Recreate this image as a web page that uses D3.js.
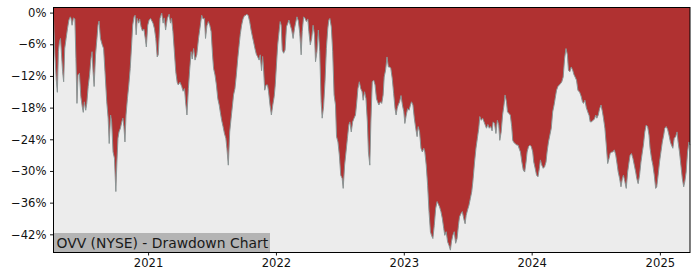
<!DOCTYPE html>
<html>
<head>
<meta charset="utf-8">
<script src="https://cdn.jsdelivr.net/npm/d3@7"></script>
<style>
  body { margin: 0; background: #fff; }
  svg { display: block; font-family: "DejaVu Sans", sans-serif; }
</style>
</head>
<body>
<div id="chart"></div>
<script>
// Drawdown from running peak, in percent
const dates = [
  "2020-04-06","2020-04-10","2020-04-14","2020-04-17","2020-04-20","2020-04-23","2020-04-26","2020-04-29",
  "2020-05-02","2020-05-05","2020-05-08","2020-05-12","2020-05-16","2020-05-20","2020-05-24","2020-05-26",
  "2020-05-29","2020-06-02","2020-06-06","2020-06-09","2020-06-12","2020-06-15","2020-06-19","2020-06-23",
  "2020-06-27","2020-06-30","2020-07-03","2020-07-07","2020-07-10","2020-07-14","2020-07-18","2020-07-22",
  "2020-07-25","2020-07-28","2020-07-31","2020-08-04","2020-08-08","2020-08-11","2020-08-14","2020-08-18",
  "2020-08-23","2020-08-27","2020-08-31","2020-09-05","2020-09-09","2020-09-12","2020-09-16","2020-09-19",
  "2020-09-23","2020-09-27","2020-10-01","2020-10-04","2020-10-07","2020-10-10","2020-10-14","2020-10-18",
  "2020-10-21","2020-10-24","2020-10-27","2020-10-30","2020-11-03","2020-11-07","2020-11-11","2020-11-15",
  "2020-11-18","2020-11-22","2020-11-25","2020-11-28","2020-12-01","2020-12-05","2020-12-08","2020-12-12",
  "2020-12-16","2020-12-20","2020-12-24","2020-12-27","2020-12-31","2021-01-04","2021-01-08","2021-01-12",
  "2021-01-15","2021-01-19","2021-01-23","2021-01-27",
  "2021-01-30","2021-02-04","2021-02-09","2021-02-13","2021-02-16","2021-02-20","2021-02-25","2021-03-02",
  "2021-03-06","2021-03-09","2021-03-13","2021-03-17","2021-03-21","2021-03-25","2021-03-28","2021-04-02",
  "2021-04-07","2021-04-11","2021-04-15","2021-04-18","2021-04-22","2021-04-26","2021-04-30","2021-05-04",
  "2021-05-07","2021-05-11","2021-05-15","2021-05-20","2021-05-25","2021-05-29","2021-06-03","2021-06-07",
  "2021-06-11","2021-06-14","2021-06-18","2021-06-22","2021-06-26","2021-06-30","2021-07-04","2021-07-07",
  "2021-07-11","2021-07-15","2021-07-19","2021-07-23","2021-07-26","2021-07-30","2021-08-03","2021-08-07",
  "2021-08-11","2021-08-14","2021-08-18","2021-08-22","2021-08-26","2021-08-30","2021-09-02","2021-09-06",
  "2021-09-10","2021-09-14","2021-09-18","2021-09-21","2021-09-25","2021-09-29","2021-10-03","2021-10-07",
  "2021-10-10","2021-10-14","2021-10-18","2021-10-22","2021-10-26","2021-10-29","2021-11-02","2021-11-06",
  "2021-11-10","2021-11-14","2021-11-17","2021-11-21","2021-11-24",
  "2021-11-26","2021-11-30","2021-12-04","2021-12-08","2021-12-11","2021-12-15","2021-12-19","2021-12-23",
  "2021-12-27","2021-12-30","2022-01-03","2022-01-06","2022-01-09","2022-01-13","2022-01-16","2022-01-19",
  "2022-01-23","2022-01-27","2022-01-31","2022-02-04","2022-02-07","2022-02-11","2022-02-15","2022-02-19",
  "2022-02-23","2022-02-26","2022-03-02","2022-03-06","2022-03-10","2022-03-14","2022-03-17","2022-03-21",
  "2022-03-25","2022-03-29","2022-04-02","2022-04-05","2022-04-09","2022-04-13","2022-04-17","2022-04-21",
  "2022-04-24","2022-04-28","2022-05-02","2022-05-06","2022-05-10","2022-05-13","2022-05-17","2022-05-21",
  "2022-05-25","2022-05-29","2022-06-01","2022-06-04","2022-06-08","2022-06-12","2022-06-16","2022-06-20",
  "2022-06-23","2022-06-27","2022-07-01","2022-07-05","2022-07-09","2022-07-12","2022-07-16","2022-07-20",
  "2022-07-24","2022-07-28","2022-07-31","2022-08-04","2022-08-08","2022-08-12","2022-08-16","2022-08-19",
  "2022-08-23","2022-08-27","2022-08-31","2022-09-04","2022-09-07","2022-09-11","2022-09-15","2022-09-19",
  "2022-09-22","2022-09-26","2022-09-29","2022-10-03","2022-10-07","2022-10-11","2022-10-15","2022-10-18",
  "2022-10-22","2022-10-26","2022-10-30","2022-11-03","2022-11-06","2022-11-10","2022-11-14","2022-11-18",
  "2022-11-22","2022-11-25","2022-11-29","2022-12-03","2022-12-07","2022-12-10","2022-12-13","2022-12-16",
  "2022-12-20","2022-12-24","2022-12-28","2023-01-01","2023-01-04","2023-01-08","2023-01-12","2023-01-16",
  "2023-01-20","2023-01-23","2023-01-27","2023-01-31","2023-02-04","2023-02-08","2023-02-11","2023-02-15",
  "2023-02-19","2023-02-23","2023-02-27","2023-03-02","2023-03-06","2023-03-10","2023-03-14","2023-03-18",
  "2023-03-21","2023-03-25","2023-03-29","2023-04-02","2023-04-06","2023-04-09","2023-04-13","2023-04-17",
  "2023-04-21","2023-04-25","2023-04-28","2023-05-02","2023-05-06","2023-05-10","2023-05-14","2023-05-17",
  "2023-05-21","2023-05-25","2023-05-29","2023-06-02","2023-06-06","2023-06-09","2023-06-13","2023-06-17",
  "2023-06-21","2023-06-25","2023-06-28","2023-07-02","2023-07-06","2023-07-10","2023-07-14","2023-07-17",
  "2023-07-18","2023-07-22","2023-07-26","2023-07-30","2023-08-03","2023-08-06","2023-08-10","2023-08-14",
  "2023-08-18","2023-08-22","2023-08-25","2023-08-29","2023-09-02","2023-09-06","2023-09-10","2023-09-13",
  "2023-09-17","2023-09-21","2023-09-25","2023-09-29","2023-10-02","2023-10-06","2023-10-10","2023-10-14",
  "2023-10-17","2023-10-21","2023-10-24","2023-10-28","2023-11-01","2023-11-05","2023-11-08","2023-11-11",
  "2023-11-15","2023-11-19","2023-11-23","2023-11-27","2023-11-30","2023-12-04","2023-12-08","2023-12-12",
  "2023-12-16","2023-12-19","2023-12-23","2023-12-27","2023-12-31","2024-01-04","2024-01-07","2024-01-11",
  "2024-01-15","2024-01-19","2024-01-23","2024-01-26","2024-01-30","2024-02-03","2024-02-07","2024-02-11",
  "2024-02-14","2024-02-18","2024-02-22","2024-02-26","2024-03-01","2024-03-05","2024-03-08","2024-03-12",
  "2024-03-16","2024-03-20","2024-03-24","2024-03-27","2024-03-31","2024-04-04","2024-04-08","2024-04-12",
  "2024-04-15","2024-04-19","2024-04-23","2024-04-27","2024-05-01","2024-05-04","2024-05-08","2024-05-12",
  "2024-05-17","2024-05-21","2024-05-25","2024-05-28","2024-06-01","2024-06-05","2024-06-09","2024-06-13",
  "2024-06-16","2024-06-20","2024-06-24","2024-06-28","2024-07-02","2024-07-05","2024-07-09","2024-07-13",
  "2024-07-17","2024-07-21","2024-07-24","2024-07-28","2024-08-01","2024-08-05","2024-08-09","2024-08-12",
  "2024-08-16","2024-08-20","2024-08-24","2024-08-28","2024-08-31","2024-09-04","2024-09-08","2024-09-12",
  "2024-09-16","2024-09-19","2024-09-23","2024-09-27","2024-10-01","2024-10-05","2024-10-08","2024-10-12",
  "2024-10-16","2024-10-20","2024-10-24","2024-10-27","2024-10-31","2024-11-04","2024-11-08","2024-11-12",
  "2024-11-15","2024-11-19","2024-11-23","2024-11-27","2024-12-01","2024-12-04","2024-12-08","2024-12-12",
  "2024-12-16","2024-12-20","2024-12-23","2024-12-27","2024-12-31","2025-01-04","2025-01-08","2025-01-12",
  "2025-01-15","2025-01-19","2025-01-23","2025-01-27","2025-01-31","2025-02-03","2025-02-07","2025-02-11",
  "2025-02-15","2025-02-19","2025-02-22","2025-02-26","2025-03-02","2025-03-06","2025-03-10","2025-03-13",
  "2025-03-17","2025-03-21","2025-03-25","2025-03-28"
];

const drawdown = [
  -1.1,-8.0,-12.8,-15.1,-7.4,-5.5,-4.9,-8.0,
  -11.2,-13.1,-6.8,-4.9,-3.0,-1.4,-0.8,-1.1,
  -2.4,-1.0,-1.2,-8.7,-17.2,-11.8,-11.5,-15.9,
  -17.8,-18.9,-16.9,-18.5,-17.2,-14.0,-11.8,-8.7,
  -7.4,-11.2,-14.0,-8.0,-4.9,-2.4,-1.6,-4.9,
  -6.1,-6.8,-11.2,-16.9,-20.0,-24.8,-19.4,-20.7,
  -26.4,-27.6,-33.9,-28.3,-23.8,-22.6,-21.9,-20.7,
  -20.0,-21.6,-24.5,-19.4,-16.3,-13.7,-10.6,-6.1,
  -2.4,-0.8,-0.5,-4.2,-1.1,-2.0,-1.2,-2.7,
  -3.5,-3.1,-4.9,-6.5,-2.4,-1.4,-1.1,-1.6,
  -2.0,-3.0,-4.9,-8.4,
  -8.0,-1.1,-0.1,-2.0,-1.0,-3.3,-1.1,-0.3,
  -2.0,-1.1,-3.6,-7.4,-11.2,-13.2,-13.7,-13.2,
  -14.0,-14.9,-14.4,-16.9,-19.4,-14.4,-10.6,-7.4,
  -8.8,-6.8,-9.0,-8.0,-4.9,-3.0,-0.5,-1.2,
  -1.1,-4.9,-2.5,-1.7,-2.4,-3.6,-8.0,-10.6,
  -11.8,-13.7,-16.3,-17.5,-18.8,-20.4,-21.6,-22.9,
  -23.8,-25.7,-28.9,-22.6,-20.0,-17.5,-15.6,-14.4,
  -11.8,-8.7,-6.1,-4.2,-2.4,-1.2,-0.6,-0.5,
  -0.3,-0.6,-1.7,-3.3,-4.6,-5.5,-6.8,-7.9,
  -8.4,-9.0,-8.0,-11.0,-8.3,
  -9.9,-14.7,-13.7,-13.7,-15.0,-17.5,-19.4,-17.5,
  -15.9,-13.7,-9.3,-6.1,-4.2,-1.7,-2.4,-7.1,
  -7.7,-7.1,-2.7,-2.0,-1.4,-2.4,-3.3,-4.9,
  -3.0,-2.0,-0.8,-1.6,-3.9,-8.0,-3.6,-0.8,
  -1.1,-1.7,-1.2,-3.6,-6.1,-4.9,-2.4,-4.2,
  -9.3,-7.4,-3.3,-7.4,-16.9,-20.0,-17.8,-13.1,
  -6.8,-3.0,-1.4,-1.1,-2.7,-7.4,-15.6,-17.5,
  -23.5,-24.5,-27.0,-30.8,-31.4,-33.3,-28.9,-26.4,
  -23.8,-21.3,-20.7,-22.6,-20.7,-20.0,-19.4,-17.5,
  -14.4,-13.1,-14.4,-15.0,-16.6,-15.0,-16.3,-20.7,
  -26.4,-28.9,-20.7,-13.1,-12.8,-13.7,-16.3,-16.9,
  -17.5,-16.9,-17.2,-15.6,-12.2,-10.9,-8.4,-10.3,
  -10.3,-10.6,-12.5,-15.3,-18.2,-19.4,-18.2,-17.5,
  -16.9,-15.7,-17.5,-18.8,-21.0,-19.4,-18.2,-18.5,
  -17.5,-16.9,-17.5,-20.0,-21.9,-23.5,-21.6,-22.6,
  -25.7,-26.4,-25.7,-26.4,-28.9,-32.7,-37.7,-41.5,
  -42.2,-42.8,-40.3,-37.1,-35.8,-36.2,-36.8,-37.7,
  -39.0,-40.9,-42.2,-41.5,-43.4,-44.1,-45.0,-43.4,
  -42.2,-41.5,-43.7,-42.8,-40.3,-38.7,-38.1,-37.7,
  -39.0,-40.0,-38.4,-37.4,-36.5,-35.2,-33.9,-32.1,
  -31.4,-28.3,-25.7,-23.8,-21.9,-19.7,-20.4,-20.0,
  -20.7,-21.4,-21.9,-21.2,-21.9,-21.6,-22.4,-20.7,
  -21.0,-22.9,-20.4,-21.3,-24.2,-22.6,-19.4,-17.5,
  -15.6,-16.9,-18.8,-19.1,-19.4,-21.6,-24.2,-24.6,
  -24.8,-25.1,-25.1,-25.9,-26.4,-28.3,-29.8,-30.2,
  -28.3,-26.4,-25.4,-25.1,-25.4,-26.4,-28.3,-29.5,
  -30.8,-31.1,-29.5,-27.9,-28.9,-29.5,-29.2,-28.3,
  -26.4,-24.5,-23.2,-21.9,-18.8,-17.5,-16.3,-14.7,
  -14.0,-13.7,-13.4,-13.1,-12.2,-8.7,-6.8,-8.0,
  -10.9,-11.2,-10.3,-10.9,-11.8,-12.2,-12.8,-14.7,
  -15.1,-15.8,-16.9,-17.2,-16.6,-18.0,-18.8,-19.5,
  -20.7,-20.7,-20.4,-20.2,-19.4,-20.0,-19.4,-18.2,
  -17.5,-18.8,-20.0,-21.9,-25.1,-28.6,-27.6,-26.7,
  -26.4,-26.4,-26.0,-27.0,-28.3,-30.2,-31.4,-33.0,
  -31.4,-30.8,-32.0,-33.3,-30.2,-28.3,-27.0,-26.7,
  -27.6,-28.9,-30.2,-31.4,-32.4,-30.8,-28.3,-26.4,
  -25.1,-22.6,-21.3,-21.6,-23.2,-25.7,-27.6,-28.9,
  -30.8,-33.3,-33.0,-30.8,-28.3,-26.4,-24.5,-23.2,
  -21.9,-21.6,-22.1,-23.2,-24.5,-25.1,-25.7,-23.8,
  -23.5,-22.6,-24.5,-26.4,-28.9,-31.4,-33.0,-32.1,
  -30.2,-26.4,-24.5,-25.1
];

const yTicks = [0, -6, -12, -18, -24, -30, -36, -42];
const xTickYears = [2021, 2022, 2023, 2024, 2025];
const title = "OVV (NYSE) - Drawdown Chart";

const w = 700;
const h = 280;
const margin = { top: 7, right: 10, bottom: 28, left: 53.5 };
const innerW = w - margin.left - margin.right;
const innerH = h - margin.top - margin.bottom;

const parser = d3.timeParse("%Y-%m-%d");
const dataset = dates.map((d, i) => ({ date: parser(d), dd: drawdown[i] }));

const xScale = d3
  .scaleTime()
  .domain(d3.extent(dataset, d => d.date))
  .range([0, innerW]);

const yScale = d3
  .scaleLinear()
  .domain([-45.35, 1.06])
  .range([innerH, 0]);

const svg = d3
  .select("#chart")
  .append("svg")
  .attr("width", w)
  .attr("height", h);

const g = svg.append("g").attr("transform", `translate(${margin.left}, ${margin.top})`);

// red "underwater" background, light area above the drawdown line
g.append("rect")
  .attr("width", innerW)
  .attr("height", innerH)
  .attr("fill", "#b03131");

const area = d3
  .area()
  .x(d => xScale(d.date))
  .y0(innerH)
  .y1(d => yScale(d.dd));

g.append("path")
  .datum(dataset)
  .attr("fill", "#ececec")
  .attr("d", area);

const line = d3
  .line()
  .x(d => xScale(d.date))
  .y(d => yScale(d.dd));

g.append("path")
  .datum(dataset)
  .attr("fill", "none")
  .attr("stroke", "#8a9494")
  .attr("stroke-width", 1)
  .attr("d", line);

// title box
const label = g.append("g").attr("transform", `translate(0, ${innerH - 19})`);
label.append("rect")
  .attr("x", 0.5)
  .attr("width", 216)
  .attr("height", 19)
  .attr("fill", "#b4b4b4");
label.append("text")
  .attr("x", 3)
  .attr("y", 14.5)
  .attr("font-size", "13.9px")
  .attr("fill", "#1a1a1a")
  .text(title);

// axes
const fmt = d => (d < 0 ? "\u2212" + Math.abs(d) : d) + "%";

const yAxis = d3.axisLeft(yScale).tickValues(yTicks).tickFormat(fmt).tickSizeOuter(0).tickSize(3.5).tickPadding(3.5);
const xAxis = d3
  .axisBottom(xScale)
  .tickValues(xTickYears.map(y => new Date(y, 0, 1)))
  .tickFormat(d3.timeFormat("%Y"))
  .tickSizeOuter(0)
  .tickSize(3.5)
  .tickPadding(3.5);

const ya = g.append("g").call(yAxis);
const xa = g.append("g").attr("transform", `translate(0, ${innerH})`).call(xAxis);

[ya, xa].forEach(a => {
  a.select(".domain").remove();
  a.selectAll("text").attr("font-size", "11.6px").attr("font-family", "DejaVu Sans, sans-serif").attr("fill", "#111");
  a.selectAll("line").attr("stroke", "#000").attr("stroke-width", 0.9);
});

// frame
g.append("rect")
  .attr("x", 0)
  .attr("y", 0.5)
  .attr("width", innerW)
  .attr("height", innerH)
  .attr("fill", "none")
  .attr("stroke", "#000")
  .attr("stroke-width", 1);
</script>
</body>
</html>
